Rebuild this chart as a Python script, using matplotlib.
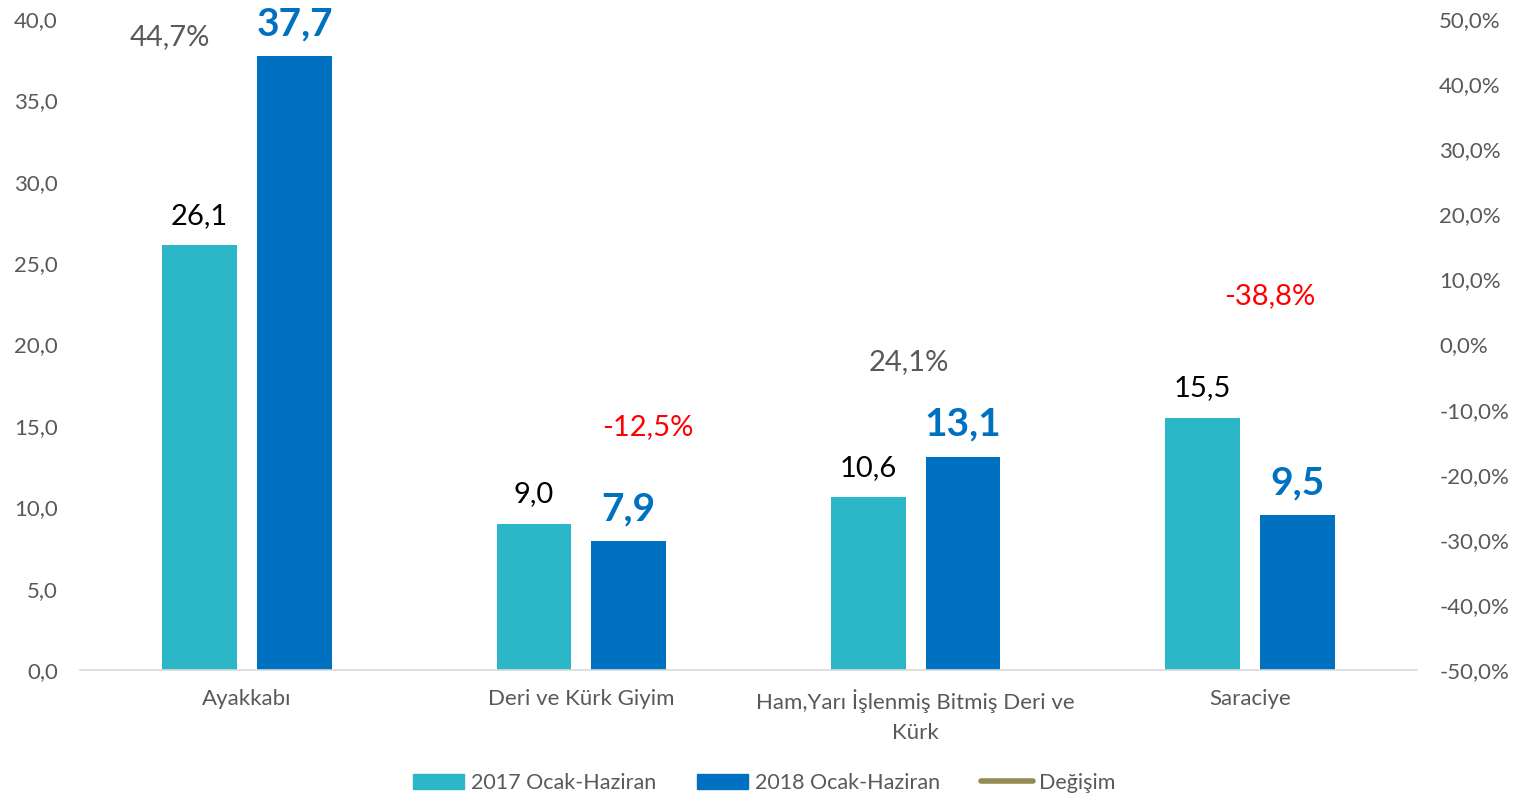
import matplotlib
matplotlib.use("Agg")
import matplotlib.pyplot as plt
from matplotlib.lines import Line2D
from matplotlib.patches import Patch
import numpy as np

categories = ["Ayakkabı", "Deri ve Kürk Giyim", "Ham,Yarı İşlenmiş Bitmiş Deri ve\nKürk", "Saraciye"]
values_2017 = [26.1, 9.0, 10.6, 15.5]
values_2018 = [37.7, 7.9, 13.1, 9.5]
change_pct = [44.7, -12.5, 24.1, -38.8]
series_names = ["2017 Ocak-Haziran", "2018 Ocak-Haziran", "Değişim"]
left_ticks = [0, 5, 10, 15, 20, 25, 30, 35, 40]
right_ticks = [-50, -40, -30, -20, -10, 0, 10, 20, 30, 40, 50]

# label placement (left-axis units) for the change labels
change_label_y = [38.9, 14.9, 18.9, 23.0]
change_label_dx = [-0.23, 0.2, -0.02, 0.06]

plt.rcParams['font.family'] = ['Lato', 'DejaVu Sans']

C2017 = "#2BB7C7"
C2018 = "#0070C0"
CLINE = "#948A54"
GREY = "#595959"

fig = plt.figure(figsize=(15.22, 7.98), dpi=100)
ax = fig.add_axes([80/1522, 128/798, (1417-80)/1522, (670-19)/798])
x = np.arange(len(categories))
w = 0.224
off = 0.1418
ax.bar(x - off, values_2017, w, color=C2017)
ax.bar(x + off, values_2018, w, color=C2018)

ax.set_xlim(-0.5, len(categories) - 0.5)
ax.set_ylim(0, 40)
ax.set_yticks(left_ticks)
ax.set_yticklabels([f"{t:.1f}".replace(".", ",") for t in left_ticks], fontsize=16, color=GREY)
ax.set_xticks(x)
ax.set_xticklabels(categories, fontsize=16, color=GREY, linespacing=1.6)
ax.tick_params(axis='both', length=0)
ax.tick_params(axis='y', pad=16)
ax.tick_params(axis='x', pad=14)
for s in ["top", "right", "left"]:
    ax.spines[s].set_visible(False)
ax.spines["bottom"].set_color("#D9D9D9")
ax.spines["bottom"].set_linewidth(1.2)

for xi, v in zip(x, values_2017):
    ax.annotate(f"{v:.1f}".replace(".", ","), (xi - off, v), xytext=(0, 12), textcoords="offset points",
                ha="center", va="bottom", fontsize=21, color="black")
for xi, v in zip(x, values_2018):
    ax.annotate(f"{v:.1f}".replace(".", ","), (xi + off, v), xytext=(0, 11), textcoords="offset points",
                ha="center", va="bottom", fontsize=28, color=C2018, fontweight="bold")

for xi, p, yy, dx in zip(x, change_pct, change_label_y, change_label_dx):
    col = GREY if p >= 0 else "#FF0000"
    ax.text(xi + dx, yy, f"{p:.1f}%".replace(".", ","), ha="center", va="center", fontsize=21, color=col)

ax2 = ax.twinx()
ax2.set_ylim(-50, 50)
ax2.set_yticks(right_ticks)
ax2.set_yticklabels([f"{t:.1f}%".replace(".", ",") for t in right_ticks], fontsize=16, color=GREY)
ax2.tick_params(axis='y', length=0, pad=16)
for s in ["top", "right", "left", "bottom"]:
    ax2.spines[s].set_visible(False)

handles = [Patch(color=C2017), Patch(color=C2018), Line2D([0], [0], color=CLINE, lw=4, solid_capstyle="round")]
fig.legend(handles, series_names, loc="center", bbox_to_anchor=(764/1522, 1 - 783/798), ncol=3, frameon=False,
           fontsize=15.5, labelcolor=GREY, handlelength=2.4, handleheight=0.75, handletextpad=0.3, columnspacing=1.9)

fig.savefig("out.png", dpi=100)
